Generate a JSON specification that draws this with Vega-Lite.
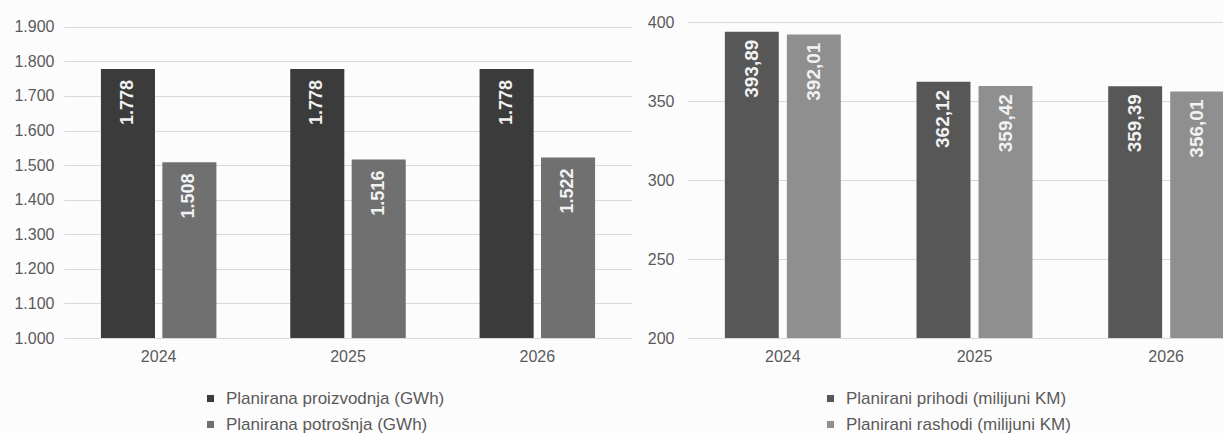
{
  "$schema": "https://vega.github.io/schema/vega-lite/v6.json",
  "background": "#fdfcfd",
  "padding": {"left": 13, "top": 14, "right": 0, "bottom": 0},
  "config": {
    "locale": {"number": {"decimal": ",", "thousands": ".", "grouping": [3], "currency": ["", ""]}},
    "font": "Liberation Sans",
    "view": {"stroke": null},
    "axis": {"labelFont": "Liberation Sans", "labelColor": "#5a5a5a", "gridColor": "#d9d9d9", "gridWidth": 1.2, "domain": false, "ticks": false, "title": null},
    "legend": {"orient": "none", "direction": "vertical", "symbolType": "square", "symbolSize": 50, "labelFont": "Liberation Sans", "labelFontSize": 17, "labelColor": "#5a5a5a", "rowPadding": 8, "labelOffset": 7, "title": null, "padding": 0, "labelLimit": 400}
  },
  "datasets": {
    "energy": [
      {"year": "2024", "series": "Planirana proizvodnja (GWh)", "value": 1778},
      {"year": "2024", "series": "Planirana potrošnja (GWh)", "value": 1508},
      {"year": "2025", "series": "Planirana proizvodnja (GWh)", "value": 1778},
      {"year": "2025", "series": "Planirana potrošnja (GWh)", "value": 1516},
      {"year": "2026", "series": "Planirana proizvodnja (GWh)", "value": 1778},
      {"year": "2026", "series": "Planirana potrošnja (GWh)", "value": 1522}
    ],
    "finance": [
      {"year": "2024", "series": "Planirani prihodi (milijuni KM)", "value": 393.89},
      {"year": "2024", "series": "Planirani rashodi (milijuni KM)", "value": 392.01},
      {"year": "2025", "series": "Planirani prihodi (milijuni KM)", "value": 362.12},
      {"year": "2025", "series": "Planirani rashodi (milijuni KM)", "value": 359.42},
      {"year": "2026", "series": "Planirani prihodi (milijuni KM)", "value": 359.39},
      {"year": "2026", "series": "Planirani rashodi (milijuni KM)", "value": 356.01}
    ]
  },
  "bounds": "flush",
  "spacing": 55,
  "resolve": {"scale": {"color": "independent", "x": "independent", "y": "independent", "xOffset": "independent"}, "legend": {"color": "independent"}},
  "hconcat": [
    {
      "width": 568,
      "height": 316,
      "data": {"name": "energy"},
      "encoding": {
        "x": {"field": "year", "type": "nominal", "scale": {"paddingInner": 0.39, "paddingOuter": 0.195}, "axis": {"labelAngle": 0, "labelFontSize": 16, "labelPadding": 10, "grid": false}},
        "xOffset": {"field": "series", "type": "nominal", "sort": ["Planirana proizvodnja (GWh)", "Planirana potrošnja (GWh)"], "scale": {"paddingInner": 0.12, "paddingOuter": 0}},
        "y": {"field": "value", "type": "quantitative", "scale": {"domain": [1000, 1914], "nice": false, "zero": false}, "axis": {"values": [1000, 1100, 1200, 1300, 1400, 1500, 1600, 1700, 1800, 1900], "format": ",d", "labelFontSize": 16, "labelPadding": 10, "grid": true}}
      },
      "layer": [
        {
          "mark": {"type": "bar", "clip": true},
          "encoding": {
            "color": {"field": "series", "type": "nominal", "sort": ["Planirana proizvodnja (GWh)", "Planirana potrošnja (GWh)"], "scale": {"domain": ["Planirana proizvodnja (GWh)", "Planirana potrošnja (GWh)"], "range": ["#3b3b3b", "#707070"]}, "legend": {"legendX": 138, "legendY": 368}}
          }
        },
        {
          "mark": {"type": "text", "angle": 270, "align": "right", "baseline": "middle", "dx": -11, "fontSize": 18, "fontWeight": "bold", "color": "#f2f2f2"},
          "encoding": {"text": {"field": "value", "type": "quantitative", "format": ",d"}}
        }
      ]
    },
    {
      "width": 575,
      "height": 316,
      "data": {"name": "finance"},
      "encoding": {
        "x": {"field": "year", "type": "nominal", "scale": {"paddingInner": 0.395, "paddingOuter": 0.1975}, "axis": {"labelAngle": 0, "labelFontSize": 16, "labelPadding": 10, "grid": false}},
        "xOffset": {"field": "series", "type": "nominal", "sort": ["Planirani prihodi (milijuni KM)", "Planirani rashodi (milijuni KM)"], "scale": {"paddingInner": 0.13, "paddingOuter": 0}},
        "y": {"field": "value", "type": "quantitative", "scale": {"domain": [200, 400], "nice": false, "zero": false}, "axis": {"values": [200, 250, 300, 350, 400], "format": "d", "labelFontSize": 16, "labelPadding": 13, "grid": true}}
      },
      "layer": [
        {
          "mark": {"type": "bar", "clip": true},
          "encoding": {
            "color": {"field": "series", "type": "nominal", "sort": ["Planirani prihodi (milijuni KM)", "Planirani rashodi (milijuni KM)"], "scale": {"domain": ["Planirani prihodi (milijuni KM)", "Planirani rashodi (milijuni KM)"], "range": ["#575757", "#8f8f8f"]}, "legend": {"legendX": 135, "legendY": 368}}
          }
        },
        {
          "mark": {"type": "text", "angle": 270, "align": "right", "baseline": "middle", "dx": -8, "fontSize": 19, "fontWeight": "bold", "color": "#f2f2f2"},
          "encoding": {"text": {"field": "value", "type": "quantitative", "format": ",.2f"}}
        }
      ]
    }
  ]
}
